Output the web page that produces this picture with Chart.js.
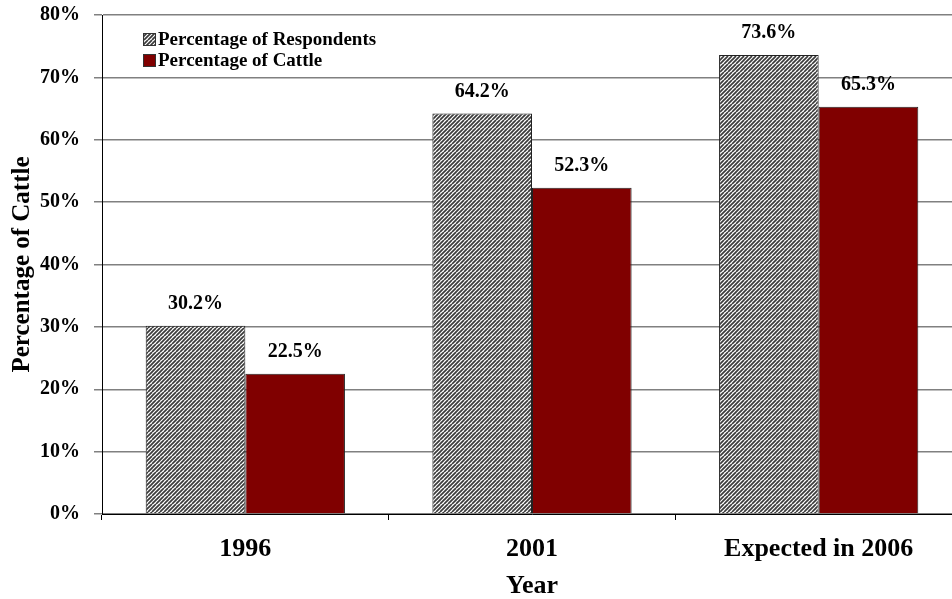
<!DOCTYPE html>
<html>
<head>
<meta charset="utf-8">
<script src="https://cdn.jsdelivr.net/npm/chart.js@4/dist/chart.umd.min.js"></script>
<style>
  html, body { margin: 0; padding: 0; background: #fff; overflow: hidden; }
  #wrap { width: 962px; height: 599px; }
</style>
</head>
<body>
<div id="wrap"><canvas id="cattleChart" width="962" height="599"></canvas></div>
<script>
const categories = ['1996', '2001', 'Expected in 2006'];
const respondents = [30.2, 64.2, 73.6];
const cattle = [22.5, 52.3, 65.3];
const yTicks = [0, 10, 20, 30, 40, 50, 60, 70, 80];

const FONT = '"Liberation Serif", "Times New Roman", serif';

// diagonal grey/white stripes like the original fill
function hatchPattern() {
  const c = document.createElement('canvas');
  c.width = 8; c.height = 8;
  const g = c.getContext('2d');
  g.fillStyle = '#fff';
  g.fillRect(0, 0, 8, 8);
  g.strokeStyle = '#3a3a3a';
  g.lineWidth = 1.7;
  for (let k = -8; k <= 16; k += 4) {
    g.beginPath();
    g.moveTo(k, 8);
    g.lineTo(k + 8, 0);
    g.stroke();
  }
  return g.createPattern(c, 'repeat');
}
const hatch = hatchPattern();

const valueLabels = {
  id: 'valueLabels',
  afterDatasetsDraw(chart) {
    const ctx = chart.ctx;
    ctx.save();
    ctx.font = 'bold 20px ' + FONT;
    ctx.fillStyle = '#000';
    ctx.textAlign = 'center';
    ctx.textBaseline = 'middle';
    chart.data.datasets.forEach((ds, i) => {
      chart.getDatasetMeta(i).data.forEach((bar, j) => {
        ctx.fillText(ds.data[j].toFixed(1) + '%', bar.x, bar.y - 22);
      });
    });
    ctx.restore();
  }
};

const innerLegend = {
  id: 'innerLegend',
  afterDraw(chart) {
    const ctx = chart.ctx;
    ctx.save();
    ctx.font = 'bold 19px ' + FONT;
    ctx.textBaseline = 'middle';
    ctx.textAlign = 'left';
    chart.data.datasets.forEach((ds, i) => {
      const y = 33 + i * 21;
      ctx.fillStyle = ds.backgroundColor;
      ctx.fillRect(143, y, 13, 13);
      ctx.strokeStyle = '#333';
      ctx.lineWidth = 1;
      ctx.strokeRect(143.5, y + 0.5, 12, 12);
      ctx.fillStyle = '#000';
      ctx.fillText(ds.label, 158, y + 7);
    });
    ctx.restore();
  }
};

new Chart(document.getElementById('cattleChart'), {
  type: 'bar',
  data: {
    labels: categories,
    datasets: [
      {
        label: 'Percentage of Respondents',
        data: respondents,
        backgroundColor: hatch,
        borderColor: '#222',
        borderWidth: 1
      },
      {
        label: 'Percentage of Cattle',
        data: cattle,
        backgroundColor: '#800000',
        borderColor: '#222',
        borderWidth: 1
      }
    ]
  },
  options: {
    responsive: false,
    animation: false,
    categoryPercentage: 0.695,
    barPercentage: 1,
    layout: { padding: { top: 15, left: 0, right: 0, bottom: 0 } },
    plugins: {
      legend: { display: false },
      tooltip: { enabled: false }
    },
    scales: {
      x: {
        afterFit: (scale) => {
          scale.height = 85;
          scale.paddingLeft = 0;
          scale.paddingRight = 0;
        },
        grid: {
          drawOnChartArea: false,
          drawTicks: true,
          tickLength: 6,
          color: '#000'
        },
        border: { color: '#000', width: 1 },
        ticks: {
          color: '#000',
          padding: 14,
          font: { family: FONT, size: 26, weight: 'bold' }
        },
        title: {
          display: true,
          text: 'Year',
          color: '#000',
          padding: { top: 0, bottom: -3 },
          font: { family: FONT, size: 26, weight: 'bold' }
        }
      },
      y: {
        min: 0,
        max: 80,
        afterFit: (scale) => {
          scale.width = 102;
          scale.paddingTop = 0;
          scale.paddingBottom = 0;
        },
        afterBuildTicks: (scale) => { scale.ticks = yTicks.map(v => ({ value: v })); },
        grid: {
          color: '#808080',
          lineWidth: 1.5,
          tickLength: 8
        },
        border: { color: '#000', width: 1 },
        ticks: {
          color: '#000',
          padding: 14,
          callback: (v) => v + '%',
          font: { family: FONT, size: 20, weight: 'bold' }
        },
        title: {
          display: true,
          text: 'Percentage of Cattle',
          color: '#000',
          padding: { top: 8, bottom: 0 },
          font: { family: FONT, size: 25, weight: 'bold' }
        }
      }
    }
  },
  plugins: [valueLabels, innerLegend]
});
</script>
</body>
</html>
